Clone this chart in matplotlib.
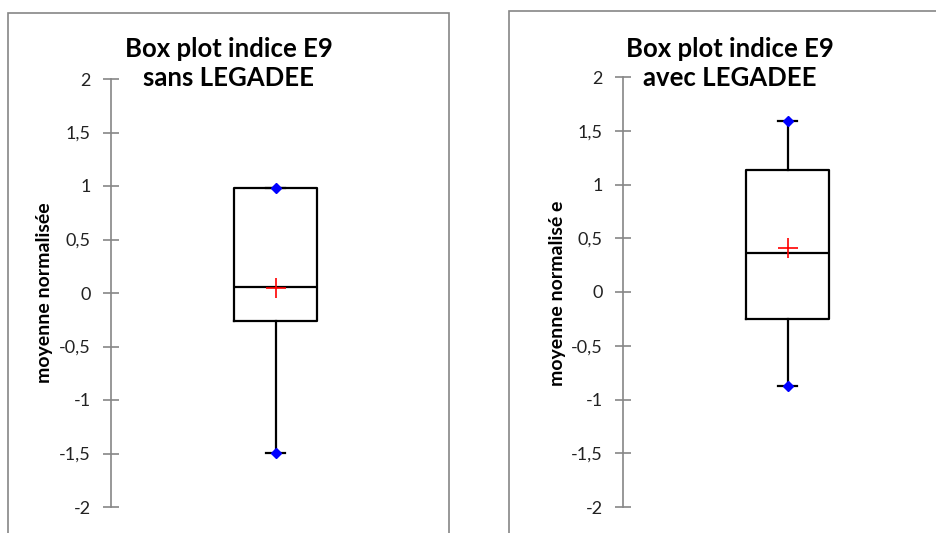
import matplotlib
matplotlib.use("Agg")
from matplotlib import pyplot as plt
from matplotlib.patches import Rectangle

plt.rcParams["font.family"] = ["Lato", "DejaVu Sans"]

# Box plot summaries
titles = ["Box plot indice E9\nsans LEGADEE", "Box plot indice E9\navec LEGADEE"]
ylabels = ["moyenne normalisée", "moyenne normalisé e"]
q1 = [-0.26, -0.25]
med = [0.055, 0.36]
q3 = [0.98, 1.135]
lo = [-1.495, -0.875]
hi = [0.98, 1.59]
mean = [0.05, 0.41]

tick_vals = [-2, -1.5, -1, -0.5, 0, 0.5, 1, 1.5, 2]
tick_labels = ["-2", "-1,5", "-1", "-0,5", "0", "0,5", "1", "1,5", "2"]

W, H = 936, 533
fig = plt.figure(figsize=(W / 100, H / 100), dpi=100)

# chart-area frames (pixel coords, top-left origin)
frames = [(8, 13, 441, 540), (509, 11, 442, 540)]
axes_px = [(111, 79, 329, 428), (623, 77, 329, 430)]
ylabel_x = [45, 558]

grey = "#868686"
for i in range(2):
    fx, fy, fw, fh = frames[i]
    fig.patches.append(Rectangle((fx / W, 1 - (fy + fh) / H), fw / W, fh / H,
                                 transform=fig.transFigure, fill=False,
                                 edgecolor=grey, linewidth=1.2))
    ax_x, ax_y, ax_w, ax_h = axes_px[i]
    ax = fig.add_axes([ax_x / W, 1 - (ax_y + ax_h) / H, ax_w / W, ax_h / H])
    ax.patch.set_alpha(0)

    stats = [dict(med=med[i], q1=q1[i], q3=q3[i], whislo=lo[i], whishi=hi[i],
                  mean=mean[i], fliers=[])]
    black = dict(color="black", linewidth=1.6)
    ax.bxp(stats, positions=[1], widths=0.5, capwidths=0.11,
           showmeans=False, showfliers=False,
           boxprops=black, whiskerprops=black, capprops=black,
           medianprops=dict(color="black", linewidth=1.6))
    ax.plot([1], [mean[i]], marker="+", color="red", markersize=14,
            markeredgewidth=1.2, linestyle="none", zorder=5)
    ax.plot([1, 1], [lo[i], hi[i]], marker="D", color="#0000ff",
            markersize=5, linestyle="none", zorder=6)

    ax.set_xlim(0, 2)
    ax.set_ylim(-2, 2)
    ax.set_yticks(tick_vals)
    ax.set_yticklabels(tick_labels, fontsize=13, color="#222222")
    ax.set_xticks([])
    for s in ["top", "right", "bottom"]:
        ax.spines[s].set_visible(False)
    ax.spines["left"].set_color(grey)
    ax.spines["left"].set_linewidth(1.2)
    ax.tick_params(axis="y", direction="inout", length=11, width=1.2,
                   color=grey, pad=9)

    # title is centred on the chart frame, not on the plot area
    cx = (fx + fw / 2) / W
    fig.text(cx, 1 - 37 / H, titles[i], ha="center", va="top",
             fontsize=18.5, fontweight="bold", linespacing=1.25)
    fig.text(ylabel_x[i] / W, 1 - 293 / H, ylabels[i], rotation=90,
             ha="center", va="center", fontsize=14, fontweight="bold")

fig.savefig("out.png", dpi=100)
